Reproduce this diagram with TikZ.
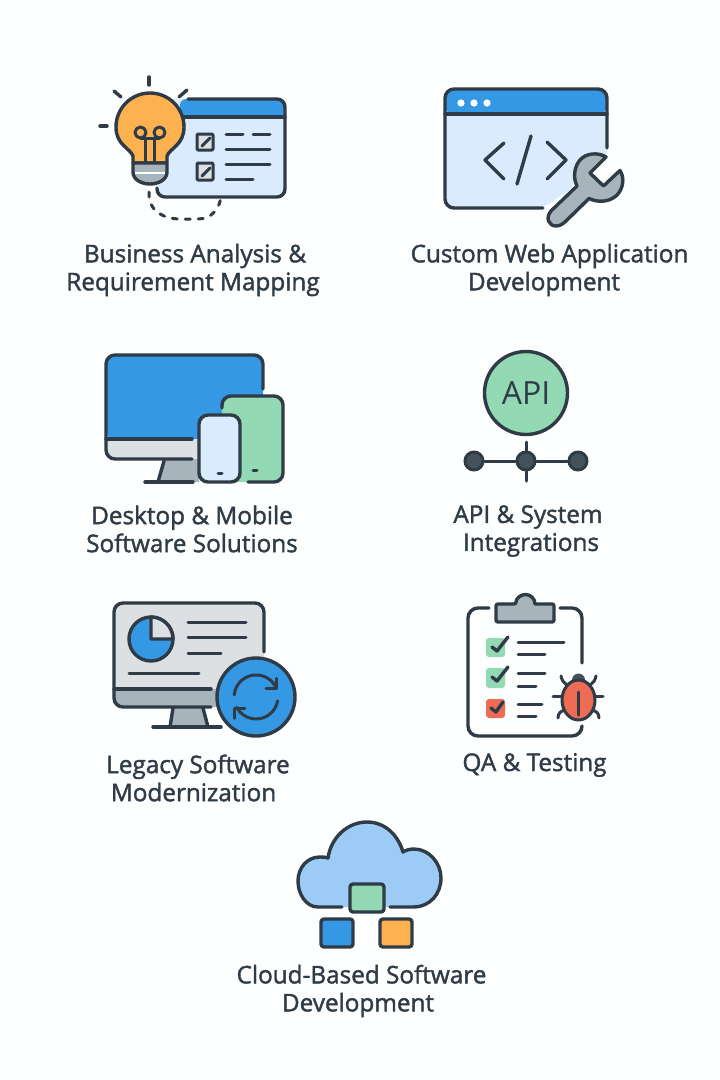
\documentclass[tikz,border=0pt]{standalone}
\usepackage{fontspec}
\usepackage{tikz}
\setmainfont[FakeBold=1.6]{Open Sans}
\newfontfamily\plainface{Open Sans}
\definecolor{ink}{HTML}{2F3B46}
\definecolor{paper}{HTML}{FDFEFE}
\definecolor{paneblue}{HTML}{3498E5}
\definecolor{paleblue}{HTML}{D9EBFC}
\definecolor{cloudblue}{HTML}{9CCBF6}
\definecolor{mint}{HTML}{93D9B4}
\definecolor{amber}{HTML}{FDB24F}
\definecolor{steel}{HTML}{A7B4BB}
\definecolor{silver}{HTML}{DCE0E3}
\definecolor{coral}{HTML}{EE6C55}
\definecolor{hub}{HTML}{44525C}
\tikzset{
  inkline/.style={draw=ink, line width=3.4pt, line cap=round, line join=round},
  thinline/.style={draw=ink, line width=3pt, line cap=round, line join=round},
  caption/.style={text=ink, align=center, font=\fontsize{24.3}{28}\selectfont},
  hubdot/.style={circle, fill=hub, draw=ink, line width=3pt, minimum size=18pt, inner sep=0pt},
}

\begin{document}
\begin{tikzpicture}[x=1pt, y=-1pt]
        \path[use as bounding box, fill=paper] (0,0) rectangle (720,1080);

        % business analysis
        \fill[paleblue, rounded corners=8pt] (162,99) -- (285,99) -- (285,197) -- (157,197) -- cycle;
        \fill[paneblue, rounded corners=6pt] (180,117) -- (180,99) -- (285,99) -- (285,117) -- cycle;
        \draw[inkline, rounded corners=8pt] (188,99) -- (285,99) -- (285,197) -- (157,197) -- (157,188);
        \draw[inkline] (184,117) -- (285,117);
        \draw[thinline, fill=silver, rounded corners=1pt] (197,134) rectangle (213,150);
        \draw[thinline, fill=silver, rounded corners=1pt] (197,163) rectangle (213,180);
        \draw[thinline] (202,146) -- (210,138);
        \draw[thinline] (202,176) -- (210,168);
        \draw[thinline] (226,134) -- (243,134);
        \draw[thinline] (253,134) -- (270,134);
        \draw[thinline] (226,149) -- (270,149);
        \draw[thinline] (226,164) -- (270,164);
        \draw[thinline] (226,179) -- (253,179);
        \draw[inkline, fill=amber] (133,163) -- (133,156) .. controls (130,148) and (116,145) .. (116,127) arc[start angle=180, end angle=360, radius=34] .. controls (184,145) and (170,148) .. (167,156) -- (167,163) -- cycle;
        \draw[inkline, fill=steel] (133,163) -- (133,172) .. controls (133,180) and (142,184) .. (150,184) .. controls (158,184) and (167,180) .. (167,172) -- (167,163) -- cycle;
        \draw[paper, line width=1.2pt] (135,173) -- (165,173);
        \draw[thinline] (140.5,132.5) circle[radius=5.5];
        \draw[thinline] (159.5,132.5) circle[radius=5.5];
        \draw[thinline] (140.5,138) -- (159.5,138);
        \draw[thinline] (145,138) -- (145,162);
        \draw[thinline] (154.5,138) -- (154.5,162);
        \draw[inkline] (149,77) -- (149,85);
        \draw[inkline] (114,91) -- (121,97);
        \draw[inkline] (179,97) -- (187,90);
        \draw[inkline] (100,126) -- (107,126);
        \draw[thinline, dash pattern=on 5pt off 8pt] (149,192) .. controls (148,212) and (165,219) .. (180,219) -- (198,219) .. controls (212,219) and (220,208) .. (221,196);
        \node[caption] (analysis) at (195,270) {Business Analysis \&\\\hspace*{-4pt}Requirement Mapping};

        % web application
        \fill[paleblue, rounded corners=8pt] (445,114) -- (607,114) -- (607,158) -- (575,175) -- (575,186) -- (543,208) -- (445,208) -- cycle;
        \fill[paneblue, rounded corners=8pt] (445,114) -- (445,89) -- (607,89) -- (607,114) -- cycle;
        \draw[inkline, rounded corners=9pt] (607,148) -- (607,89) -- (445,89) -- (445,208) -- (543,208);
        \draw[inkline] (445,114) -- (607,114);
        \fill[white] (461,103) circle[radius=3.6];
        \fill[white] (474,103) circle[radius=3.6];
        \fill[white] (487,103) circle[radius=3.6];
        \draw[inkline] (504,143) -- (485,160) -- (504,179);
        \draw[inkline] (531,136) -- (517,184);
        \draw[inkline] (547,142) -- (566,160) -- (547,179);
        \draw[inkline, fill=steel] (606,157) .. controls (598,152) and (586,153) .. (580,160) .. controls (574,167) and (573,178) .. (577,186) -- (551,211) .. controls (545,218) and (549,226) .. (556,226) .. controls (560,226) and (563,224) .. (567,220) -- (589,198.5) .. controls (598,203) and (610,202) .. (617,195) .. controls (623,189) and (625,178) .. (620,170.5) -- (603.5,186) -- (590,173) -- cycle;
        \node[caption] (webapp) at (549.5,270) {Custom Web Application\\\hspace*{-11pt}Development};

        % desktop and mobile
        \fill[paneblue, rounded corners=8pt] (106,439) -- (106,355) -- (263,355) -- (263,439) -- cycle;
        \fill[silver, rounded corners=6pt] (106,439) -- (200,439) -- (200,459) -- (106,459) -- cycle;
        \fill[steel] (164,459) -- (199,459) -- (199,482) -- (158,482) -- cycle;
        \draw[inkline, rounded corners=9pt] (263,389) -- (263,355) -- (106,355) -- (106,459) -- (192,459);
        \draw[inkline] (106,439) -- (192,439);
        \draw[inkline] (164,461) -- (158,482);
        \draw[inkline] (145,482) -- (193,482);
        \fill[mint, rounded corners=9pt] (222,396) rectangle (283,482);
        \draw[inkline, rounded corners=9pt] (222,408) -- (222,396) -- (283,396) -- (283,482) -- (248,482);
        \draw[inkline, fill=paleblue, rounded corners=9pt] (199,415) rectangle (240,482);
        \draw[thinline] (218,473) -- (222,473);
        \draw[thinline] (253,470) -- (257,470);
        \node[caption] (desktop) at (192,529) {Desktop \& Mobile\\Software Solutions};

        % api
        \node[circle, draw=ink, fill=mint, line width=3.4pt, minimum size=83pt, inner sep=0pt, text=ink, font=\plainface\fontsize{32}{32}\selectfont] (apibubble) at (526,393) {API};
        \node[hubdot] (apileft) at (474,461) {};
        \node[hubdot] (apimid) at (526,461) {};
        \node[hubdot] (apiright) at (578,461) {};
        \coordinate (apitop) at (526,442);
        \coordinate (apibot) at (526,481);
        \draw[thinline] (apitop) -- (apimid);
        \draw[thinline] (apimid) -- (apibot);
        \draw[thinline] (apileft) -- (apimid);
        \draw[thinline] (apimid) -- (apiright);
        \node[caption] (apitext) at (528,531) {API \& System\\\hspace*{6pt}Integrations};

        % legacy software
        \fill[silver, rounded corners=8pt] (114,689) -- (114,603) -- (264,603) -- (264,689) -- cycle;
        \fill[steel, rounded corners=6pt] (114,689) -- (230,689) -- (230,707) -- (114,707) -- cycle;
        \draw[steel, fill=steel] (173,707) -- (203,707) -- (208,727) -- (170,727) -- cycle;
        \draw[inkline, rounded corners=9pt] (264,652) -- (264,603) -- (114,603) -- (114,707) -- (211,707);
        \draw[inkline] (114,689) -- (211,689);
        \draw[inkline] (173,708) -- (170,727);
        \draw[inkline] (203,708) -- (208,727);
        \draw[inkline] (153,727) -- (221,727);
        \draw[inkline, fill=paneblue] (151,639) circle[radius=22];
        \draw[inkline, fill=silver] (151,639) -- (151,617) arc[start angle=270, end angle=360, radius=22] -- cycle;
        \draw[thinline] (188,622) -- (246,622);
        \draw[thinline] (188,637) -- (246,637);
        \draw[thinline] (188,653) -- (221,653);
        \draw[thinline] (129,673) -- (199,673);
        \draw[inkline, fill=paneblue] (256,697) circle[radius=39];
        \draw[thinline] (234.2,695) arc[start angle=185, end angle=337, radius=22];
        \draw[thinline] (266,688.3) -- (276.7,688.3) -- (276.7,678.3);
        \draw[thinline] (277.7,700.8) arc[start angle=10, end angle=152, radius=22];
        \draw[thinline] (245,708.3) -- (234.3,708.3) -- (234.3,718.3);
        \node[caption] (legacy) at (198,778) {Legacy Software\\\hspace*{-9pt}Modernization};

        % qa and testing
        \draw[inkline, rounded corners=10pt] (489,608) -- (468,608) -- (468,736) -- (582,736) -- (582,727);
        \draw[inkline, rounded corners=10pt] (560,608) -- (582,608) -- (582,663);
        \draw[inkline, fill=steel] (516,604) arc[start angle=180, end angle=360, radius=9.5] [rounded corners=2pt] -- (554,604) -- (554,622) -- (496,622) -- (496,604) -- cycle;
        \fill[mint, rounded corners=3pt] (486,638) rectangle (505,657);
        \fill[mint, rounded corners=3pt] (486,668) rectangle (505,688);
        \fill[coral, rounded corners=3pt] (486,699) rectangle (505,718);
        \draw[inkline] (492,647) -- (497,651) -- (508,637);
        \draw[inkline] (492,677) -- (497,681) -- (508,667);
        \draw[inkline] (491,708) -- (496,712) -- (503,702);
        \draw[thinline] (518,642) -- (564,642);
        \draw[thinline] (518,654) -- (545,654);
        \draw[thinline] (518,673) -- (545,673);
        \draw[thinline] (518,686) -- (536,686);
        \draw[thinline] (518,704) -- (542,704);
        \draw[thinline] (518,716) -- (536,716);
        \draw[thinline] (553,696) -- (562,696);
        \draw[thinline] (594,696) -- (603,696);
        \draw[thinline] (561,676) .. controls (562,681) and (564,683) .. (567,685);
        \draw[thinline] (596,676) .. controls (595,681) and (593,683) .. (590,685);
        \draw[thinline] (558,718) .. controls (558,713) and (561,711) .. (565,710);
        \draw[thinline] (599,718) .. controls (599,713) and (596,711) .. (592,710);
        \fill[hub] (578.5,680) circle[radius=6.5];
        \draw[thinline, fill=coral] (578.5,700) ellipse[x radius=16.5, y radius=20];
        \draw[thinline] (578.5,692) -- (578.5,715);
        \node[caption] (testing) at (534.5,765) {QA \& Testing};

        % cloud
        \fill[cloudblue] (342,907) -- (318,907) .. controls (306,907) and (298,894) .. (298,881) .. controls (298,868) and (307,857) .. (320,857) .. controls (323,857) and (325,857) .. (328,858) .. controls (331,837) and (348,822) .. (367,822) .. controls (385,822) and (398,835) .. (403,852) .. controls (406,850) and (410,849) .. (414,849) .. controls (429,849) and (441,863) .. (441,878) .. controls (441,894) and (430,907) .. (413,907) -- cycle;
        \draw[inkline] (342,907) -- (318,907) .. controls (306,907) and (298,894) .. (298,881) .. controls (298,868) and (307,857) .. (320,857) .. controls (323,857) and (325,857) .. (328,858) .. controls (331,837) and (348,822) .. (367,822) .. controls (385,822) and (398,835) .. (403,852) .. controls (406,850) and (410,849) .. (414,849) .. controls (429,849) and (441,863) .. (441,878) .. controls (441,894) and (430,907) .. (413,907) -- (390,907);
        \draw[inkline, fill=mint, rounded corners=3pt] (350,884) rectangle (384,912);
        \draw[inkline, fill=paneblue, rounded corners=3pt] (321,919) rectangle (353,947);
        \draw[inkline, fill=amber, rounded corners=3pt] (380,919) rectangle (412,947);
        \node[caption] (cloudtext) at (361.5,991) {Cloud-Based Software\\\hspace*{-7pt}Development};
    \end{tikzpicture}
\end{document}
